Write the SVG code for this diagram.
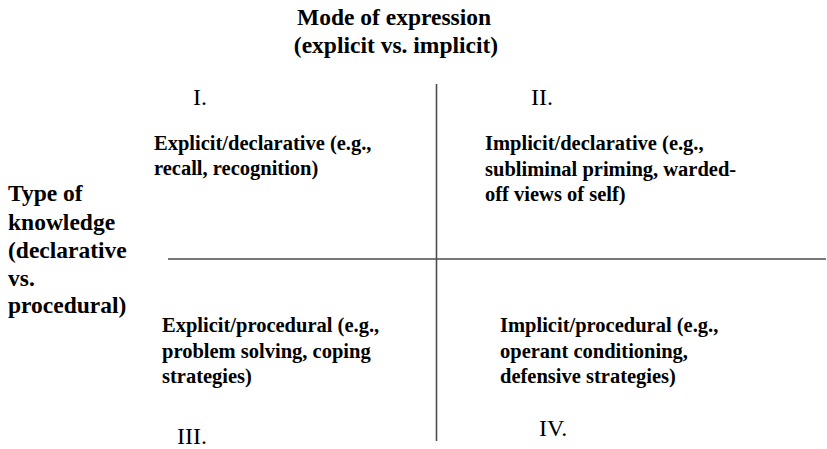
<svg xmlns="http://www.w3.org/2000/svg" width="827" height="449" viewBox="0 0 827 449">
  <style>
    .head { font-family: "Liberation Serif", "Times New Roman", serif; font-weight: bold; font-size: 23.5px; fill: #000; }
    .cell { font-family: "Liberation Serif", "Times New Roman", serif; font-weight: bold; font-size: 20.5px; fill: #000; }
    .num { font-family: "Liberation Serif", "Times New Roman", serif; font-size: 24px; fill: #000; }
    .axis { stroke: #4d4d4d; stroke-width: 1.6; fill: none; }
  </style>
  <rect width="827" height="449" fill="#fff"/>

  <!-- axes dividing the four quadrants -->
  <g id="connectors">
    <line class="axis" x1="436.5" y1="84" x2="436.5" y2="441"/>
    <line class="axis" x1="168" y1="259" x2="826" y2="259"/>
  </g>

  <!-- horizontal dimension title -->
  <g id="mode-of-expression">
    <text class="head" x="394" y="25" text-anchor="middle">Mode of expression</text>
    <text class="head" x="396" y="53" text-anchor="middle">(explicit vs. implicit)</text>
  </g>

  <!-- vertical dimension title -->
  <g id="type-of-knowledge">
    <text class="head" x="8" y="201">Type of</text>
    <text class="head" x="8" y="230">knowledge</text>
    <text class="head" x="8" y="258">(declarative</text>
    <text class="head" x="8" y="286">vs.</text>
    <text class="head" x="8" y="313">procedural)</text>
  </g>

  <!-- quadrant I -->
  <g id="quadrant-1">
    <text class="num" x="193" y="105">I.</text>
    <text class="cell" x="154" y="150">Explicit/declarative (e.g.,</text>
    <text class="cell" x="154" y="175">recall, recognition)</text>
  </g>

  <!-- quadrant II -->
  <g id="quadrant-2">
    <text class="num" x="531" y="105">II.</text>
    <text class="cell" x="485" y="150">Implicit/declarative (e.g.,</text>
    <text class="cell" x="485" y="175.5">subliminal priming, warded-</text>
    <text class="cell" x="485" y="201">off views of self)</text>
  </g>

  <!-- quadrant III -->
  <g id="quadrant-3">
    <text class="cell" x="162" y="332">Explicit/procedural (e.g.,</text>
    <text class="cell" x="162" y="358">problem solving, coping</text>
    <text class="cell" x="162" y="383">strategies)</text>
    <text class="num" x="177" y="444">III.</text>
  </g>

  <!-- quadrant IV -->
  <g id="quadrant-4">
    <text class="cell" x="500" y="332">Implicit/procedural (e.g.,</text>
    <text class="cell" x="500" y="358">operant conditioning,</text>
    <text class="cell" x="500" y="383">defensive strategies)</text>
    <text class="num" x="539" y="436">IV.</text>
  </g>
</svg>
